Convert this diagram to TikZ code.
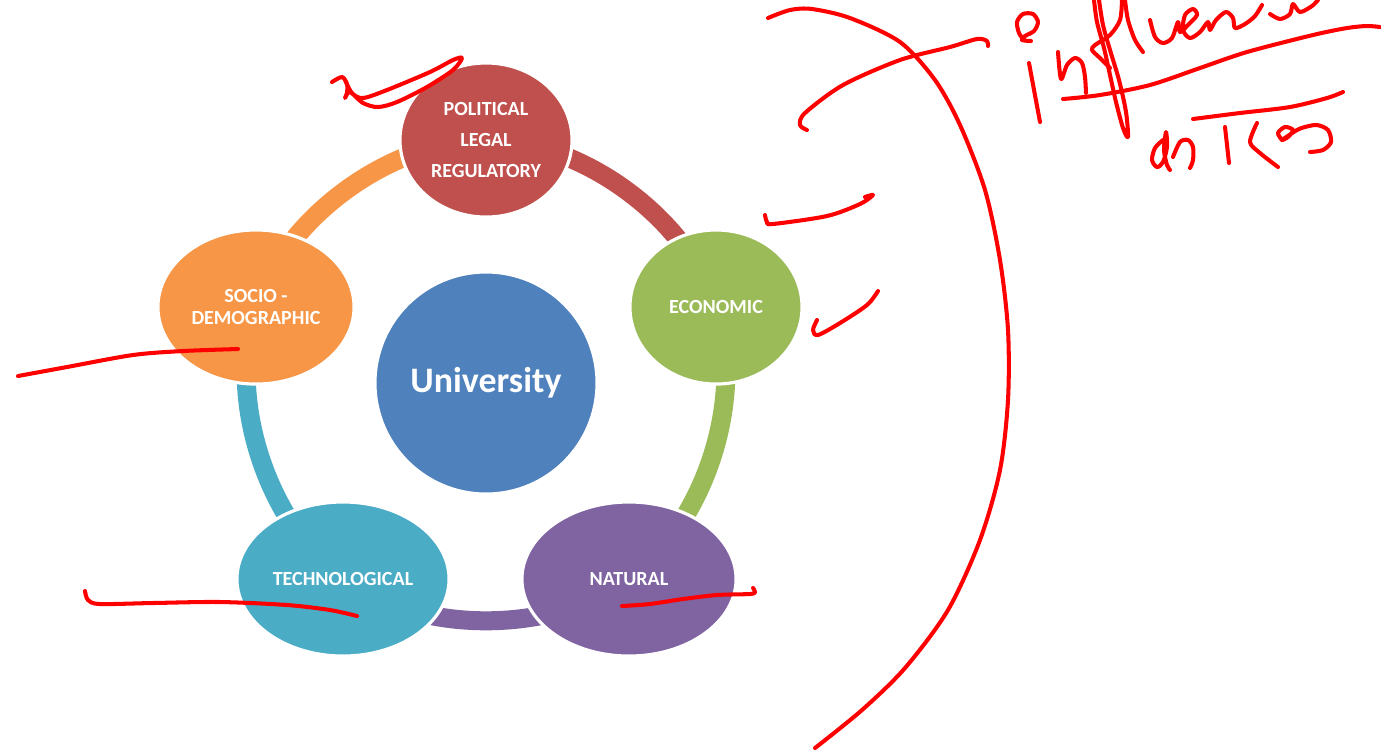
\documentclass[tikz,border=0pt]{standalone}
\usepackage{fontspec}
\setmainfont{Carlito}
\usepackage{tikz}
\usetikzlibrary{shapes.geometric,backgrounds}

\definecolor{polred}{HTML}{C0504D}
\definecolor{ecogreen}{HTML}{9BBB59}
\definecolor{natpurple}{HTML}{8064A2}
\definecolor{techblue}{HTML}{4BACC6}
\definecolor{socorange}{HTML}{F79646}
\definecolor{unicol}{HTML}{4F81BD}

\begin{document}
\begin{tikzpicture}[x=0.01cm, y=-0.01cm,
    factor/.style={ellipse, draw=white, line width=0.9pt, inner sep=0pt, minimum height=1.54cm,
        text=white, align=center, font=\fontsize{5.7}{8.8}\selectfont\bfseries},
    link/.style={line width=0.19cm, bend left=36, looseness=0.85},
    ink/.style={red, line width=1.15pt, line cap=round, line join=round}]
            \useasboundingbox (0,0) rectangle (1381,753);

            % Centre
            \node[circle, fill=unicol, draw=white, line width=0.9pt, minimum size=2.22cm, inner sep=0pt,
                  text=white, font=\fontsize{10.2}{12}\selectfont\bfseries] (uni) at (486,383) {University};

            % Factors round the ring
            \node[factor, fill=polred, minimum width=1.72cm] (pol) at (486,140) {POLITICAL\\LEGAL\\REGULATORY};
            \node[factor, fill=ecogreen, minimum width=1.72cm] (eco) at (716,307) {ECONOMIC};
            \node[factor, fill=natpurple, minimum width=2.14cm] (nat) at (629,579) {NATURAL};
            \node[factor, fill=techblue, minimum width=2.12cm] (tec) at (343,579) {TECHNOLOGICAL};
            \node[factor, fill=socorange, minimum width=1.96cm, font=\fontsize{5.7}{6.3}\selectfont\bfseries]
                  (soc) at (256,307) {SOCIO -\\DEMOGRAPHIC};

            % Ring segments, behind the factors
            \begin{pgfonlayer}{background}
                \draw[link, polred] (pol.center) to (eco.center);
                \draw[link, ecogreen] (eco.center) to (nat.center);
                \draw[link, natpurple] (nat.center) to (tec.center);
                \draw[link, techblue] (tec.center) to (soc.center);
                \draw[link, socorange] (soc.center) to (pol.center);
            \end{pgfonlayer}

            % Red marks on the factors
            \draw[ink] plot[smooth] coordinates {(332,82) (342,77) (347,84) (347,93) (345,98) (350,92) (363,103) (378,107) (397,102) (427,87) (453,70) (462,58) (453,60) (430,72) (387,90) (363,98) (352,93) (345,80)};
            \draw[ink] plot[smooth] coordinates {(765,215) (767,222) (773,224) (827,216) (860,204) (873,195) (865,197)};
            \draw[ink] plot[smooth] coordinates {(817,320) (813,330) (818,335) (840,323) (867,305) (878,291)};
            \draw[ink] plot[smooth] coordinates {(18,376) (67,367) (133,355) (183,351) (238,349)};
            \draw[ink] plot[smooth] coordinates {(85,591) (88,600) (100,604) (153,603) (220,602) (287,605) (330,610) (357,616)};
            \draw[ink] plot[smooth] coordinates {(622,606) (650,604) (683,599) (717,595) (750,594) (755,592) (753,588)};

            % Big bracket and the stroke across it
            \draw[ink] plot[smooth] coordinates {(768,18) (790,10) (812,9) (850,18) (900,42) (935,80) (960,125) (985,190) (1000,260) (1008,330) (1008,400) (1000,470) (980,540) (948,610) (905,668) (862,710) (815,748)};
            \draw[ink] plot[smooth] coordinates {(807,130) (800,125) (805,113) (843,85) (900,60) (950,47) (977,39) (987,41) (988,46)};

            % Handwriting
            \draw[ink] plot[smooth] coordinates {(1024,40) (1019,33) (1017,22) (1023,14) (1033,14) (1038,22) (1034,31) (1025,36) (1022,40) (1031,41)};
            \draw[ink] (1029,63) -- (1040,122);
            \draw[ink] plot[smooth] coordinates {(1058,52) (1061,79) (1067,65) (1075,58) (1082,63) (1085,77) (1086,93)};
            \draw[ink] plot[smooth] coordinates {(1063,99) (1100,95) (1150,85) (1200,68) (1247,52) (1313,35) (1347,28) (1367,26) (1380,27)};
            \draw[ink] plot[smooth] coordinates {(1099,0) (1103,25) (1110,50) (1119,80) (1126,112) (1128,137) (1123,128) (1116,102) (1110,75) (1104,48) (1097,22) (1094,0)};
            \draw[ink] plot[smooth] coordinates {(1122,0) (1120,20) (1110,35) (1095,45) (1092,50) (1100,58) (1110,68)};
            \draw[ink] plot[smooth] coordinates {(1125,0) (1128,20) (1135,40) (1143,52)};
            \draw[ink] plot[smooth] coordinates {(1150,20) (1155,37) (1163,43) (1172,38) (1178,22) (1180,32) (1188,25) (1197,15) (1193,9) (1185,15) (1183,30) (1190,38) (1200,32) (1208,22) (1210,30) (1216,20) (1226,12) (1233,18) (1235,28) (1245,24) (1255,16) (1262,5)};
            \draw[ink] plot[smooth] coordinates {(1270,14) (1280,19) (1290,14) (1293,4) (1300,12) (1312,6) (1318,0)};
            \draw[ink] plot[smooth] coordinates {(1193,119) (1240,113) (1290,107) (1327,98) (1343,92)};
            \draw[ink] plot[smooth] coordinates {(1163,140) (1155,148) (1152,160) (1157,167) (1163,162) (1167,147) (1166,132) (1164,150) (1167,165) (1170,170)};
            \draw[ink] plot[smooth] coordinates {(1173,157) (1180,142) (1188,140) (1193,147) (1193,160) (1190,168)};
            \draw[ink] (1225,127) -- (1229,163);
            \draw[ink] plot[smooth] coordinates {(1257,123) (1250,142) (1260,153) (1278,167)};
            \draw[ink] plot[smooth] coordinates {(1282,140) (1278,133) (1285,127) (1293,130) (1288,137) (1282,140) (1297,130) (1305,127) (1317,125) (1328,130) (1331,142) (1323,150) (1310,152)};
        \end{tikzpicture}
\end{document}
